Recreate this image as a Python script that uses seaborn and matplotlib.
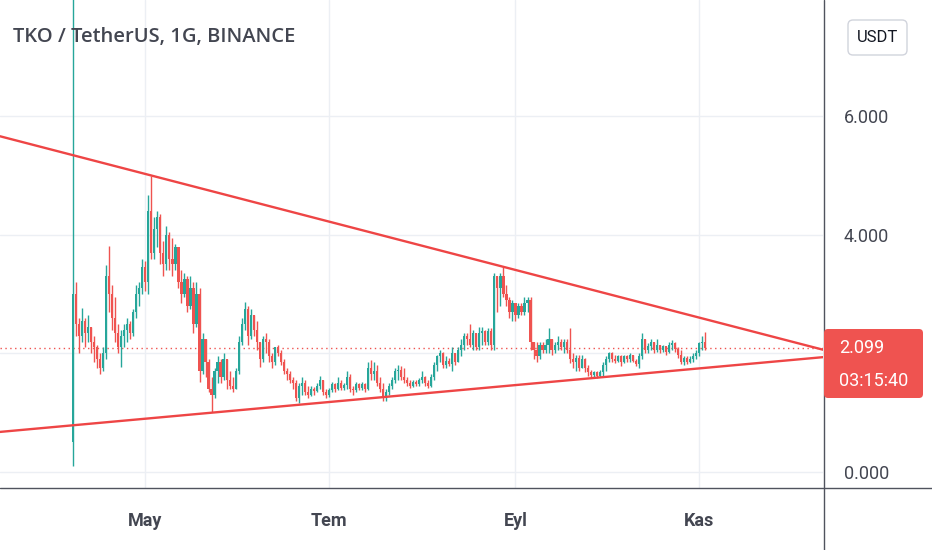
import matplotlib
matplotlib.use("Agg")
import matplotlib.pyplot as plt
import matplotlib.dates as mdates
from matplotlib.patches import FancyBboxPatch
import numpy as np
import pandas as pd
import seaborn as sns

# daily candles, TKO/USDT, starting at listing day
start_date = "2021-04-07"
first_open = 0.5
close = [
    3.0, 2.5, 2.3, 2.55, 2.35, 2.45, 2.2, 2.1, 1.9, 1.75,
    2.0, 3.3, 3.0, 2.6, 2.35, 2.1, 2.3, 2.4, 2.5, 2.35,
    2.7, 3.0, 3.1, 3.45, 3.2, 4.4, 3.7, 4.1, 4.3, 3.7,
    3.5, 4.0, 3.6, 3.5, 3.8, 3.2, 3.0, 3.25, 2.8, 3.1,
    2.5, 3.0, 1.7, 2.25, 1.85, 1.4, 1.3, 1.7, 1.85, 1.6,
    1.9, 1.55, 1.45, 1.4, 1.7, 2.2, 2.5, 2.75, 2.3, 2.65,
    2.4, 2.2, 1.9, 2.25, 2.2, 1.95, 1.85, 2.1, 2.0, 1.85,
    1.7, 1.65, 1.55, 1.5, 1.25, 1.45, 1.5, 1.35, 1.3, 1.4,
    1.36, 1.45, 1.55, 1.35, 1.3, 1.38, 1.48, 1.4, 1.5, 1.42,
    1.46, 1.6, 1.4, 1.38, 1.48, 1.42, 1.48, 1.4, 1.75, 1.65,
    1.7, 1.5, 1.4, 1.25, 1.35, 1.45, 1.55, 1.7, 1.72, 1.6,
    1.55, 1.5, 1.45, 1.52, 1.48, 1.55, 1.6, 1.5, 1.45, 1.6,
    1.8, 1.95, 2.0, 1.8, 1.88, 1.82, 2.0, 1.85, 2.05, 2.15,
    2.3, 2.25, 2.15, 2.35, 2.1, 2.35, 2.38, 2.2, 2.38, 2.15,
    3.3, 3.1, 3.3, 3.0, 2.9, 2.7, 2.85, 2.65, 2.8, 2.7,
    2.85, 2.9, 2.2, 2.05, 1.95, 2.15, 2.05, 2.15, 2.25, 2.05,
    2.15, 2.2, 2.1, 2.2, 2.05, 1.9, 1.85, 1.92, 1.75, 1.9,
    1.75, 1.68, 1.63, 1.68, 1.62, 1.68, 1.8, 1.9, 2.0, 1.9,
    1.88, 1.95, 1.85, 1.95, 1.9, 1.97, 1.88, 1.82, 1.95, 2.25,
    2.05, 2.12, 2.2, 2.05, 2.15, 2.05, 2.12, 2.02, 2.15, 2.18,
    2.08, 1.98, 1.85, 1.92, 1.85, 1.9, 1.96, 2.0, 2.18, 2.2,
    2.099,
]
high = [
    10.0, 3.2, 2.6, 2.77, 2.6, 2.65, 2.45, 2.3, 2.15, 2.0,
    2.1, 3.49, 3.81, 3.15, 2.95, 2.5, 2.4, 2.5, 2.6, 2.55,
    2.75, 3.15, 3.2, 3.6, 3.55, 4.67, 5.0, 4.3, 4.4, 4.35,
    3.9, 4.15, 4.05, 3.95, 3.85, 3.8, 3.4, 3.35, 3.3, 3.3,
    3.2, 3.2, 3.1, 2.35, 2.25, 1.9, 1.6, 1.75, 1.95, 1.9,
    2.0, 1.9, 1.7, 1.6, 1.75, 2.3, 2.6, 2.87, 2.8, 2.75,
    2.6, 2.55, 2.2, 2.3, 2.35, 2.25, 2.0, 2.1, 2.15, 2.05,
    1.9, 1.75, 1.7, 1.6, 1.55, 1.5, 1.6, 1.55, 1.45, 1.45,
    1.44, 1.5, 1.62, 1.55, 1.4, 1.42, 1.52, 1.5, 1.6, 1.55,
    1.5, 1.7, 1.65, 1.45, 1.52, 1.5, 1.52, 1.5, 1.85, 1.89,
    1.85, 1.8, 1.6, 1.5, 1.4, 1.5, 1.6, 1.75, 1.8, 1.78,
    1.75, 1.6, 1.55, 1.55, 1.55, 1.58, 1.7, 1.62, 1.55, 1.65,
    1.85, 1.98, 2.05, 2.02, 1.95, 1.92, 2.1, 2.0, 2.1, 2.25,
    2.35, 2.35, 2.5, 2.4, 2.3, 2.45, 2.45, 2.4, 2.42, 2.42,
    3.35, 3.3, 3.35, 3.46, 3.15, 2.95, 2.9, 2.85, 2.85, 2.85,
    2.95, 2.95, 2.95, 2.2, 2.2, 2.2, 2.2, 2.25, 2.43, 2.25,
    2.2, 2.3, 2.25, 2.25, 2.25, 2.43, 2.0, 1.97, 1.97, 1.98,
    1.92, 1.8, 1.72, 1.7, 1.7, 1.72, 1.85, 1.95, 2.02, 2.02,
    1.98, 1.98, 1.97, 1.98, 1.98, 2.0, 1.98, 1.9, 2.0, 2.34,
    2.25, 2.18, 2.25, 2.2, 2.25, 2.15, 2.15, 2.12, 2.2, 2.22,
    2.2, 2.1, 2.05, 1.95, 1.95, 1.95, 2.0, 2.05, 2.2, 2.3,
    2.36,
]
low = [
    0.1, 2.3, 2.0, 2.2, 2.1, 2.2, 2.0, 1.85, 1.75, 1.65,
    1.7, 1.9, 2.7, 2.4, 2.2, 2.0, 1.77, 2.1, 2.2, 2.25,
    2.3, 2.6, 2.8, 3.0, 3.05, 3.0, 3.6, 3.6, 3.8, 3.5,
    3.3, 3.4, 3.4, 3.3, 3.4, 3.1, 2.85, 2.95, 2.7, 2.75,
    2.35, 2.45, 1.52, 1.65, 1.6, 1.35, 1.01, 1.25, 1.5, 1.5,
    1.55, 1.4, 1.4, 1.35, 1.4, 1.65, 2.15, 2.4, 2.15, 2.25,
    2.3, 2.05, 1.77, 1.85, 2.0, 1.85, 1.75, 1.8, 1.95, 1.8,
    1.65, 1.55, 1.5, 1.4, 1.2, 1.16, 1.3, 1.3, 1.25, 1.28,
    1.3, 1.35, 1.4, 1.3, 1.25, 1.26, 1.35, 1.35, 1.38, 1.38,
    1.38, 1.4, 1.35, 1.3, 1.35, 1.38, 1.38, 1.35, 1.38, 1.55,
    1.55, 1.45, 1.35, 1.2, 1.2, 1.3, 1.4, 1.5, 1.55, 1.55,
    1.5, 1.45, 1.42, 1.43, 1.45, 1.45, 1.5, 1.45, 1.42, 1.43,
    1.55, 1.7, 1.85, 1.75, 1.75, 1.78, 1.7, 1.8, 1.85, 1.95,
    2.05, 2.15, 2.1, 2.05, 2.05, 2.05, 2.15, 2.15, 2.15, 2.05,
    2.05, 2.7, 2.8, 2.95, 2.8, 2.6, 2.55, 2.55, 2.6, 2.65,
    2.65, 2.7, 2.05, 1.9, 1.85, 1.9, 2.0, 2.0, 2.0, 1.98,
    2.0, 2.05, 2.05, 2.0, 2.0, 1.83, 1.75, 1.7, 1.7, 1.75,
    1.68, 1.62, 1.6, 1.6, 1.58, 1.6, 1.62, 1.7, 1.85, 1.85,
    1.83, 1.85, 1.78, 1.83, 1.85, 1.85, 1.85, 1.78, 1.75, 1.9,
    2.0, 2.0, 2.05, 2.0, 2.02, 2.0, 2.02, 1.98, 2.0, 2.05,
    2.03, 1.92, 1.82, 1.8, 1.82, 1.83, 1.85, 1.9, 1.95, 2.05,
    2.05,
]

month_ticks = ["2021-05-01", "2021-07-01", "2021-09-01", "2021-11-01"]
month_labels = ["May", "Tem", "Eyl", "Kas"]
price_ticks = [0, 2, 4, 6]
# 2.000 sits under the last-price tag, so it is not shown
price_labels = ["0.000", "", "4.000", "6.000"]

# hand-drawn trendlines (two anchor points each)
upper_dates = ["2021-05-03", "2021-08-28"]
upper_prices = [5.0, 3.46]
lower_dates = ["2021-05-23", "2021-09-28"]
lower_prices = [1.0, 1.59]

last_price = 2.099
countdown = "03:15:40"
title = "TKO / TetherUS, 1G, BINANCE"
quote = "USDT"

UP = "#26a69a"
DOWN = "#ef5350"
LINE_RED = "#ee4545"
TEXT = "#434651"

sns.set_theme(style="white")
plt.rcParams["font.family"] = ["Roboto", "DejaVu Sans"]

df = pd.DataFrame({
    "date": pd.date_range(start_date, periods=len(close), freq="D"),
    "close": close, "high": high, "low": low,
})
df["open"] = [first_open] + close[:-1]
df["high"] = df[["high", "open", "close"]].max(axis=1)
df["low"] = df[["low", "open", "close"]].min(axis=1)
df["x"] = mdates.date2num(df["date"])
colors = np.where(df["close"] >= df["open"], UP, DOWN)

W, H = 932, 550
fig = plt.figure(figsize=(W / 100, H / 100), dpi=100)
ax = fig.add_axes([0, 62 / H, 823 / W, 488 / H])

# candles
ax.vlines(df["x"], df["low"], df["high"], colors=colors, linewidth=1.0, zorder=3)
body_lo = df[["open", "close"]].min(axis=1)
body_h = (df["close"] - df["open"]).abs().clip(lower=0.012)
ax.bar(df["x"], body_h, bottom=body_lo, width=0.72, color=colors, linewidth=0, zorder=3)

x0 = df["x"].iloc[0]
xlim = (x0 - 24.3, x0 + 249.2)
ax.set_xlim(*xlim)
ax.set_ylim(-0.27, 7.96)


def extend(dates, prices):
    xs = mdates.date2num(pd.to_datetime(dates))
    slope = (prices[1] - prices[0]) / (xs[1] - xs[0])
    xe = np.array(xlim)
    return xe, prices[0] + slope * (xe - xs[0])


for d, p in [(upper_dates, upper_prices), (lower_dates, lower_prices)]:
    xe, ye = extend(d, p)
    sns.lineplot(x=xe, y=ye, ax=ax, color=LINE_RED, linewidth=1.7, zorder=4)

ax.axhline(last_price, color=DOWN, linewidth=1.0, linestyle=(0, (1, 2.5)), zorder=2)

# axes styling
ax.set_xticks(mdates.date2num(pd.to_datetime(month_ticks)))
ax.set_xticklabels(month_labels)
ax.set_yticks(price_ticks)
ax.set_yticklabels(price_labels)
ax.yaxis.tick_right()
ax.grid(True, color="#eceff4", linewidth=1.0, zorder=0)
for s in ax.spines.values():
    s.set_visible(False)
ax.tick_params(axis="y", length=0, pad=15, labelsize=13, labelcolor=TEXT)
ax.tick_params(axis="x", length=0, pad=17, labelsize=13, labelcolor=TEXT)
for lab in ax.get_xticklabels():
    lab.set_fontweight("bold")

# frame lines of the price and time scales
fig.add_artist(plt.Line2D([0, 1], [62 / H, 62 / H], transform=fig.transFigure,
                          color="#50535e", linewidth=1.0))
fig.add_artist(plt.Line2D([823.5 / W, 823.5 / W], [0, 1], transform=fig.transFigure,
                          color="#50535e", linewidth=1.0))

inch = fig.dpi_scale_trans
# last price tag
tag = FancyBboxPatch((8.24, (H - 398) / 100), 0.99, 0.69,
                     boxstyle="round,pad=0,rounding_size=0.04",
                     transform=inch, facecolor=DOWN, edgecolor="none", zorder=5)
fig.add_artist(tag)
fig.text(8.39, (H - 348) / 100, f"{last_price:.3f}", transform=inch, color="white",
         fontsize=13, va="center", ha="left", zorder=6)
fig.text(8.39, (H - 381) / 100, countdown, transform=inch, color="white",
         fontsize=13, va="center", ha="left", zorder=6)

# currency button
btn = FancyBboxPatch((8.48, (H - 55) / 100), 0.59, 0.35,
                     boxstyle="round,pad=0,rounding_size=0.05",
                     transform=inch, facecolor="white", edgecolor="#d1d4dc",
                     linewidth=1.0, zorder=5)
fig.add_artist(btn)
fig.text(8.775, (H - 37) / 100, quote, transform=inch, color="#131722",
         fontsize=12, va="center", ha="center", zorder=6)

fig.text(0.13, (H - 37) / 100, title, transform=inch, color=TEXT,
         fontsize=14.5, fontweight="semibold", family=["Open Sans", "DejaVu Sans"],
         va="center", ha="left", zorder=6)

fig.savefig("out.png", dpi=100)
plt.close(fig)
